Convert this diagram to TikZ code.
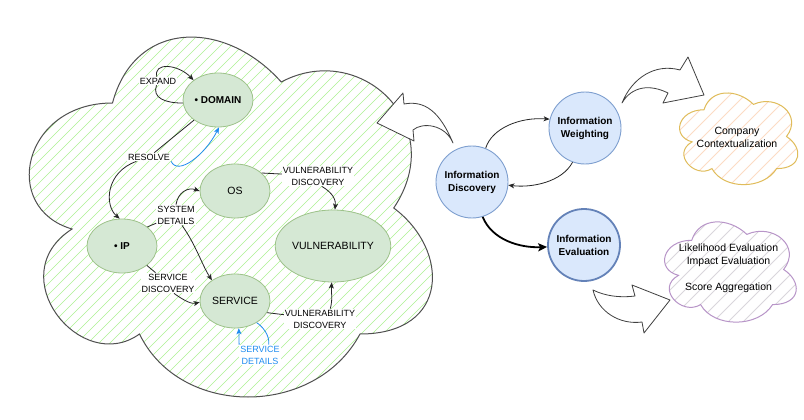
\documentclass[tikz,border=0pt]{standalone}
\usepackage{fontspec}
\setmainfont{Liberation Sans}
\usetikzlibrary{arrows.meta,shapes.geometric}
\definecolor{hatchgreen}{HTML}{ADF292}
\definecolor{fillgreen}{HTML}{D5E8D4}
\definecolor{nodegreen}{HTML}{9DC28A}
\definecolor{fillblue}{HTML}{DAE8FC}
\definecolor{nodeblue}{HTML}{7E9FCF}
\definecolor{evalblue}{HTML}{6482B8}
\definecolor{blueedge}{HTML}{1E8CF0}
\definecolor{orangeline}{HTML}{E0BC5A}
\definecolor{orangehatch}{HTML}{FCDCC4}
\definecolor{purpleline}{HTML}{B895C8}
\definecolor{purplehatch}{HTML}{D9D6DC}
\definecolor{cloudline}{HTML}{505050}
\newcommand\cloudshape[4]{({#1+0.25*#3},{#2+0.25*#4}) .. controls ({#1+0.05*#3},{#2+0.25*#4}) and ({#1},{#2+0.5*#4}) .. ({#1+0.16*#3},{#2+0.55*#4})
 .. controls ({#1},{#2+0.66*#4}) and ({#1+0.18*#3},{#2+0.9*#4}) .. ({#1+0.31*#3},{#2+0.8*#4})
 .. controls ({#1+0.4*#3},{#2+#4}) and ({#1+0.7*#3},{#2+#4}) .. ({#1+0.8*#3},{#2+0.8*#4})
 .. controls ({#1+#3},{#2+0.8*#4}) and ({#1+#3},{#2+0.6*#4}) .. ({#1+0.875*#3},{#2+0.5*#4})
 .. controls ({#1+#3},{#2+0.3*#4}) and ({#1+0.8*#3},{#2+0.1*#4}) .. ({#1+0.625*#3},{#2+0.2*#4})
 .. controls ({#1+0.5*#3},{#2+0.05*#4}) and ({#1+0.3*#3},{#2+0.05*#4}) .. ({#1+0.25*#3},{#2+0.25*#4}) -- cycle}
\begin{document}
\begin{tikzpicture}[x=1pt,y=-1pt,
 gnode/.style={ellipse, draw=nodegreen, fill=fillgreen, line width=0.8pt, minimum width=70pt, minimum height=54pt, inner sep=0pt, font=\fontsize{10.5}{12}\selectfont},
 elab/.style={fill=white, inner sep=1pt, align=center, font=\fontsize{9}{12}\selectfont},
 plainedge/.style={draw=black!85, line width=0.8pt},
 conn/.style={plainedge, -{Stealth[length=6pt,width=5pt,inset=1.5pt]}},
 blueplain/.style={draw=blueedge, line width=0.8pt},
 blueconn/.style={blueplain, -{Stealth[length=6pt,width=5pt,inset=1.5pt]}},
 thickconn/.style={draw=black, line width=1.8pt, -{Stealth[length=9pt,width=8pt,inset=2pt]}},
 bnode/.style={circle, draw=nodeblue, fill=fillblue, line width=0.9pt, minimum size=72pt, inner sep=0pt, align=center, font=\bfseries\fontsize{10}{13}\selectfont},
 blk/.style={draw=black!75, fill=white, line width=0.8pt, line join=round},
 cloudtext/.style={align=center, font=\fontsize{10.5}{13}\selectfont}
]
\useasboundingbox (0,0) rectangle (804,420);
\fill[white] (0,0) rectangle (804,420);

% big cloud with hatching
\begin{scope}
 \clip \cloudshape{0}{-2}{450}{420};
 \foreach \i in {-440,-429,...,470} \draw[hatchgreen, line width=0.6pt] (\i,420) -- ++(420,-420);
\end{scope}
\draw[cloudline, line width=1pt] \cloudshape{0}{-2}{450}{420};

% company cloud
\begin{scope}
 \clip \cloudshape{671}{83}{132}{107};
 \foreach \i in {520,535,...,820} \draw[orangehatch, line width=0.8pt] (\i,200) -- ++(130,-130);
\end{scope}
\draw[orangeline, line width=1pt] \cloudshape{671}{83}{132}{107};
\node[cloudtext] (ctx) at (737,137) {Company\\Contextualization};

% evaluation cloud
\begin{scope}
 \clip \cloudshape{655}{211}{147}{117};
 \foreach \i in {500,515,...,820} \draw[purplehatch, line width=0.8pt] (\i,340) -- ++(140,-140);
\end{scope}
\draw[purpleline, line width=1pt] \cloudshape{655}{211}{147}{117};
\node[cloudtext] (scr) at (728.5,268.5) {Likelihood Evaluation\\Impact Evaluation\\[13pt]Score Aggregation};

% green nodes
\node[gnode, font=\bfseries\fontsize{10}{12}\selectfont] (dom) at (218,100) {• DOMAIN};
\node[gnode] (os) at (235,191) {OS};
\node[gnode, font=\bfseries\fontsize{10}{12}\selectfont] (ip) at (122,246) {• IP};
\node[gnode, minimum width=92pt, minimum height=72pt] (vul) at (333,246) {VULNERABILITY};
\node[gnode] (srv) at (235,301) {SERVICE};

% edge labels
\node[elab] (lexp) at (158,81) {EXPAND};
\node[elab] (lres) at (149,157) {RESOLVE};
\node[elab] (lsys) at (176,215) {SYSTEM\\DETAILS};
\node[elab] (lsd) at (168,283) {SERVICE\\DISCOVERY};
\node[elab] (lvd1) at (318,176) {VULNERABILITY\\DISCOVERY};
\node[elab] (lvd2) at (320,319) {VULNERABILITY\\DISCOVERY};
\node[elab, text=blueedge] (lsdet) at (260,355) {SERVICE\\DETAILS};

% edges in big cloud
\draw[plainedge] (dom.185) .. controls (165,103) and (152,98) .. (lexp);
\draw[conn] (lexp) .. controls (153,62) and (178,64) .. (dom.141);
\draw[plainedge] (dom.220) -- (lres);
\draw[conn] (lres) .. controls (106,172) and (104,205) .. (ip.95);
\draw[blueconn] (lres.south east) .. controls (178,176) and (205,155) .. (dom.272);
\draw[plainedge] (ip.37) -- (lsys);
\draw[conn] (lsys.north) .. controls (178,192) and (188,187) .. (os.west);
\draw[conn] (lsys.-60) .. controls (196,245) and (202,265) .. (srv.138);
\draw[plainedge] (ip.-38) -- (lsd);
\draw[conn] (lsd.-60) .. controls (186,302) and (192,304) .. (srv.182);
\draw[plainedge] (os.34) -- (lvd1);
\draw[conn] (lvd1.-70) .. controls (333,193) and (336,200) .. (vul.87);
\draw[plainedge] (srv.-20) -- (lvd2);
\draw[conn] (lvd2.45) .. controls (333,298) and (331,292) .. (vul.-92);
\draw[blueconn] (lsdet.north west) -- (srv.-82);
\draw[blueplain] (lsdet.50) .. controls (270,335) and (262,326) .. (srv.-45);

% right side
\node[bnode] (disc) at (472,182) {Information\\Discovery};
\node[bnode] (wei) at (585,128) {Information\\Weighting};
\node[bnode, draw=evalblue, line width=1.8pt] (eva) at (584,245) {Information\\Evaluation};
\draw[conn] (disc.68) .. controls (492,128) and (520,117) .. (wei.166);
\draw[conn] (wei.250) .. controls (562,182) and (532,188) .. (disc.-5);
\draw[thickconn] (disc.-73) .. controls (492,240) and (520,248) .. (eva.183);

% block arrows
\draw[blk] (453,143) .. controls (440,112) and (425,100) .. (404,104) -- (403,93) -- (377,123) -- (414,141) -- (413,130) .. controls (422,122) and (445,124) .. cycle;
\draw[blk] (622,103) .. controls (632,78) and (655,63) .. (680,70) -- (688,57) -- (704,95) -- (663,103) -- (668,93) .. controls (650,84) and (632,86) .. cycle;
\draw[blk] (593,290) .. controls (605,296) and (620,298) .. (635,296) -- (632,285) -- (670,300) -- (644,333) -- (642,322) .. controls (620,325) and (598,312) .. cycle;
\end{tikzpicture}
\end{document}
